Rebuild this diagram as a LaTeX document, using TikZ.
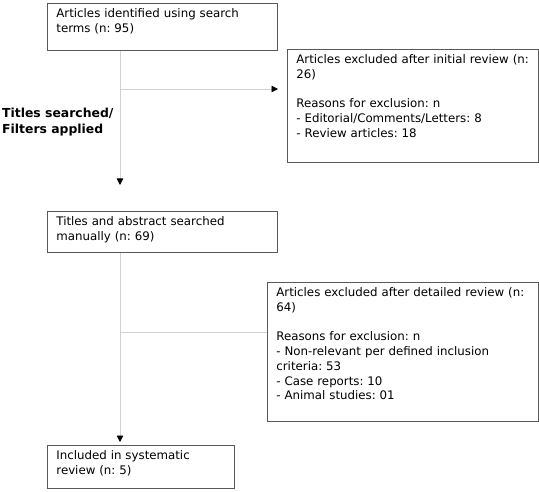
\documentclass[tikz,border=0pt]{standalone}
\usepackage{fontspec}
\setmainfont{DejaVu Sans}
\frenchspacing
\usetikzlibrary{calc,arrows.meta}

\begin{document}
\begin{tikzpicture}[
  x=1pt, y=1pt,
  box/.style={draw=black!65, line width=0.8pt, anchor=north west, align=left,
    inner xsep=9pt, inner ysep=5.5pt,
    font=\fontsize{11.8}{14.7}\selectfont},
  link/.style={draw=black!18, line width=0.8pt},
  arr/.style={link, -{Triangle[length=6.5pt,width=6.5pt,color=black]}},
  stage/.style={anchor=base west, align=left, inner sep=0pt,
    font=\fontsize{12.4}{16}\selectfont\bfseries}
]
\useasboundingbox (0,0) rectangle (539,491);

\node[box, text width=212pt, text depth=27.5pt] (ident) at (47,488)
  {Articles identified using search\\terms (n: 95)};
\node[box, text width=233pt, text depth=93pt] (excl1) at (287,442)
  {Articles excluded after initial review (n:\\26)\\[14.7pt]Reasons for exclusion: n\\- Editorial/Comments/Letters: 8\\- Review articles: 18};
\node[box, text width=212pt, text depth=21.1pt] (screen) at (47,280)
  {Titles and abstract searched\\manually (n: 69)};
\node[box, text width=253pt, text depth=119.1pt] (excl2) at (267,209)
  {Articles excluded after detailed review (n:\\64)\\[14.7pt]Reasons for exclusion: n\\- Non-relevant per defined inclusion\\criteria: 53\\- Case reports: 10\\- Animal studies: 01};
\node[box, text width=169pt, text depth=23.1pt] (incl) at (47,46)
  {Included in systematic\\review (n: 5)};

\node[stage] (filter) at (2,357) {Titles searched/\\Filters applied};

\coordinate (trunk) at (120,0);
\coordinate (h1) at (120,402);
\coordinate (h2) at (120,159);

\draw[arr, shorten >=26pt] (ident.south -| trunk) -- (screen.north -| trunk);
\draw[arr, shorten >=9pt] (h1) -- (excl1.west |- h1);
\draw[arr, shorten >=3pt] (screen.south -| trunk) -- (incl.north -| trunk);
\draw[link] (h2) -- (excl2.west |- h2);
\end{tikzpicture}
\end{document}
